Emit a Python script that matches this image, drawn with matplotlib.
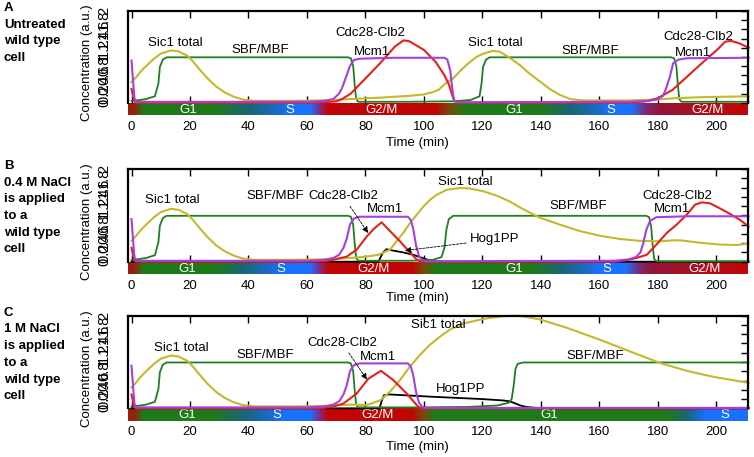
import numpy as np
import matplotlib
matplotlib.use('Agg')
import matplotlib.pyplot as plt

plt.rcParams['font.family'] = ['Liberation Sans', 'DejaVu Sans']

# ---------------------------------------------------------------------------
# data: (time [min], concentration [a.u.])
# ---------------------------------------------------------------------------
sic1_first = [(0, 0.45), (1.5, 0.55), (3, 0.67), (5, 0.8), (7.5, 0.95), (10, 1.07),
              (13.5, 1.14), (16, 1.12), (19, 1.03), (21, 0.9), (23.5, 0.71), (26, 0.53),
              (29, 0.35), (32, 0.22), (35, 0.13), (38, 0.07), (42, 0.04), (55, 0.04),
              (65, 0.05), (75, 0.08)]
sbf_first = [(0, 0.04), (3, 0.06), (5, 0.08), (8, 0.14), (9.2, 0.42), (9.7, 0.78),
             (10.7, 0.94), (12, 0.99), (74, 0.99), (75, 0.97), (75.8, 0.8), (76.3, 0.4),
             (76.8, 0.08), (77.5, 0.02)]
mcm1_start = [(0, 0.92), (0.5, 0.5), (1, 0.1), (1.5, 0.02), (60, 0.02), (66, 0.04)]
clb2_start = [(0, 0.3), (0.5, 0.15), (1, 0.03), (1.5, 0), (60, 0), (66, 0.01)]

# panel A: untreated
a_sic1 = sic1_first + [(85, 0.11), (95, 0.15), (100, 0.18), (103, 0.23), (105, 0.28),
                       (107, 0.4), (110, 0.53), (112.5, 0.7), (115, 0.85), (118, 1.0),
                       (120.3, 1.07), (123.5, 1.13), (126, 1.11), (129.5, 0.97),
                       (132.8, 0.82), (136, 0.64), (139.7, 0.46), (143, 0.3),
                       (146.5, 0.17), (150, 0.08), (154.4, 0.05), (170, 0.05),
                       (180, 0.07), (186, 0.1), (195, 0.12), (211, 0.14)]
a_sbf = sbf_first + [(95, 0.02), (110, 0.03), (116, 0.06), (119, 0.14), (119.7, 0.42),
                     (120.2, 0.78), (121.2, 0.94), (122.5, 0.99), (184.5, 0.99),
                     (185.5, 0.97), (186.3, 0.8), (186.8, 0.4), (187.3, 0.08),
                     (188, 0.02), (211, 0.02)]
a_mcm1 = mcm1_start + [(69, 0.08), (71, 0.2), (72, 0.32), (73.3, 0.55), (74.7, 0.8),
                       (76, 0.93), (78, 0.96), (90, 0.98), (107, 0.98), (108, 0.94),
                       (109, 0.7), (109.7, 0.3), (110.3, 0.05), (111, 0.01),
                       (170, 0.02), (177, 0.04), (180, 0.08), (181.8, 0.15),
                       (183, 0.35), (184.1, 0.57), (185.2, 0.86), (187, 0.94),
                       (190, 0.97), (211, 0.98)]
a_clb2 = clb2_start + [(70, 0.03), (72, 0.08), (75, 0.2), (80, 0.53), (85, 0.86),
                       (90, 1.22), (93, 1.36), (95, 1.34), (100, 1.15), (104, 0.89),
                       (107, 0.6), (108.5, 0.4), (109.5, 0.2), (110.3, 0.05),
                       (111, 0), (170, 0), (176, 0.03), (180, 0.1), (185, 0.28),
                       (190, 0.57), (195, 0.86), (200, 1.14), (203, 1.33),
                       (205, 1.35), (208, 1.29), (211, 1.2)]

# panel B: 0.4 M NaCl
b_sic1 = sic1_first + [(80.4, 0.11), (84.4, 0.15), (88.4, 0.26), (90.6, 0.44),
                       (92.9, 0.62), (95.2, 0.83), (97.5, 1.01), (99.8, 1.19),
                       (102, 1.33), (104.3, 1.44), (107.7, 1.55), (112.2, 1.59),
                       (115.6, 1.58), (120.2, 1.52), (124.7, 1.43), (129.3, 1.3),
                       (132.8, 1.17), (139.6, 0.95), (146.5, 0.8), (153.3, 0.66),
                       (160.2, 0.56), (167, 0.49), (173.8, 0.45), (180.7, 0.44),
                       (185, 0.46), (188, 0.46), (194.3, 0.41), (201.2, 0.37),
                       (206.9, 0.36), (211, 0.39)]
b_sbf = sbf_first + [(95, 0.02), (103, 0.04), (106, 0.1), (107, 0.3), (107.7, 0.7),
                     (108.5, 0.92), (110, 0.99), (176, 0.99), (177, 0.96),
                     (177.7, 0.75), (178.2, 0.35), (178.7, 0.06), (179.5, 0.01),
                     (211, 0.01)]
b_mcm1 = mcm1_start + [(69, 0.08), (71, 0.15), (72.5, 0.3), (73.6, 0.5), (74.7, 0.8),
                       (76, 0.93), (78, 0.97), (94.5, 0.97), (95.5, 0.9), (96.3, 0.72),
                       (97.3, 0.35), (98.3, 0.12), (99.5, 0.03), (100.5, 0.01),
                       (165, 0.02), (170, 0.05), (172.5, 0.1), (174, 0.2), (175, 0.4),
                       (176, 0.68), (177.3, 0.88), (179.5, 0.96), (190, 0.98),
                       (211, 0.98)]
b_clb2 = clb2_start + [(69, 0.04), (73.6, 0.11), (77, 0.26), (80.4, 0.54), (82.7, 0.7),
                       (85.5, 0.85), (88.4, 0.66), (91.8, 0.44), (95.2, 0.2),
                       (97.5, 0.05), (98.5, 0.01), (99.5, 0), (165, 0), (170, 0.04),
                       (172.7, 0.08), (176.2, 0.15), (179.5, 0.37), (183, 0.62),
                       (186.4, 0.8), (189.8, 1.01), (192.7, 1.23), (195, 1.28),
                       (197.8, 1.26), (201.2, 1.15), (204.7, 1.03), (208.1, 0.9),
                       (211, 0.76)]
b_hog = [(0, 0), (84.5, 0), (85.2, 0.1), (86, 0.2), (87.2, 0.27), (89.4, 0.24),
         (92.9, 0.2), (96.3, 0.15), (98.6, 0.1), (100.9, 0.05), (103.2, 0.01),
         (106, 0), (211, 0)]

# panel C: 1 M NaCl
c_sic1 = sic1_first + [(80.4, 0.07), (85, 0.17), (88.4, 0.36), (91.8, 0.61),
                       (95.2, 0.9), (98.6, 1.15), (102, 1.37), (105.5, 1.55),
                       (108.9, 1.7), (113.4, 1.83), (120.3, 1.93), (127, 1.99),
                       (132.8, 2.0), (139.6, 1.92), (148.8, 1.74), (160.2, 1.48),
                       (171.6, 1.2), (180.7, 0.98), (189.8, 0.81), (198.9, 0.68),
                       (211, 0.55)]
c_sbf = sbf_first + [(100, 0.02), (115, 0.03), (125, 0.06), (129, 0.12), (130, 0.2),
                     (130.7, 0.5), (131.3, 0.85), (132, 0.96), (134, 0.99),
                     (211, 0.99)]
c_mcm1 = mcm1_start + [(69, 0.08), (71, 0.15), (72.5, 0.3), (73.6, 0.5), (74.7, 0.8),
                       (76, 0.93), (78, 0.97), (94.5, 0.97), (95.5, 0.9), (96.3, 0.72),
                       (97.3, 0.35), (98.3, 0.12), (99.5, 0.03), (100.5, 0.01),
                       (211, 0.01)]
c_clb2 = clb2_start + [(69, 0.04), (72.4, 0.1), (77, 0.32), (81, 0.64), (85.3, 0.81),
                       (89.5, 0.61), (94.1, 0.32), (97.5, 0.07), (98.5, 0.01),
                       (99.5, 0), (211, 0)]
c_hog = [(0, 0), (84.8, 0), (85.5, 0.15), (86.3, 0.28), (88, 0.3), (102.6, 0.25),
         (119.7, 0.2), (127, 0.17), (129.4, 0.15), (131, 0.11), (133, 0.06),
         (135, 0.03), (138, 0.01), (142, 0), (211, 0)]

# phase bar colour stops (time, rgb)
G1 = (0.12, 0.48, 0.10)
SB = (0.10, 0.45, 1.00)
TEAL = (0.10, 0.40, 0.45)
RED = (0.76, 0.02, 0.02)
MAROON = (0.58, 0.08, 0.22)
DK = (0.60, 0.12, 0.05)
a_phase = [(-1.2, DK), (0.5, DK), (4, G1), (28, G1), (40, TEAL), (50, (0.1, 0.42, 0.8)),
           (55, SB), (61, SB), (64, (0.45, 0.2, 0.6)), (67, RED), (104, RED),
           (109, (0.45, 0.3, 0.05)), (114, G1), (140, G1), (150, TEAL),
           (160, (0.1, 0.42, 0.8)), (164, SB), (171, SB), (176, (0.5, 0.15, 0.45)),
           (181, MAROON), (195, (0.68, 0.06, 0.12)), (211, RED)]
b_phase = [(-1.2, DK), (0.5, DK), (4, G1), (28, G1), (38, TEAL), (47, (0.1, 0.42, 0.8)),
           (53, SB), (61, SB), (64, (0.45, 0.2, 0.6)), (67, RED), (96, RED),
           (100, (0.45, 0.3, 0.05)), (104, G1), (137, G1), (147, TEAL),
           (156, (0.1, 0.42, 0.8)), (160, SB), (169, SB), (174, (0.5, 0.15, 0.45)),
           (178, MAROON), (195, (0.68, 0.06, 0.12)), (211, RED)]
c_phase = [(-1.2, DK), (0.5, DK), (4, G1), (28, G1), (38, TEAL), (47, (0.1, 0.42, 0.8)),
           (53, SB), (61, SB), (64, (0.45, 0.2, 0.6)), (67, RED), (96, RED),
           (100, (0.45, 0.3, 0.05)), (104, G1), (183, G1), (190, TEAL),
           (194, (0.1, 0.42, 0.8)), (197, SB), (211, SB)]

a_phase_lbl = [('G1', 19.3), ('S', 54), ('G2/M', 85.6), ('G1', 131), ('S', 164), ('G2/M', 197)]
b_phase_lbl = [('G1', 19), ('S', 51), ('G2/M', 82.6), ('G1', 131), ('S', 162.5), ('G2/M', 196)]
c_phase_lbl = [('G1', 19), ('S', 49.6), ('G2/M', 84.3), ('G1', 143), ('S', 203)]

# curve labels: (text, t, y)
a_labels = [('Sic1 total', 14.9, 1.30), ('SBF/MBF', 43.9, 1.15), ('Cdc28-Clb2', 81.5, 1.52),
            ('Mcm1', 82.2, 1.11), ('Sic1 total', 124.3, 1.30), ('SBF/MBF', 156.8, 1.13),
            ('Cdc28-Clb2', 193.7, 1.43), ('Mcm1', 192.0, 1.09)]
b_labels = [('Sic1 total', 13.8, 1.33), ('SBF/MBF', 49.0, 1.41), ('Mcm1', 86.7, 1.13),
            ('Sic1 total', 114.0, 1.72), ('SBF/MBF', 152.6, 1.20),
            ('Cdc28-Clb2', 186.5, 1.41), ('Mcm1', 184.8, 1.13)]
c_labels = [('Sic1 total', 17.2, 1.30), ('SBF/MBF', 45.6, 1.15), ('Mcm1', 84.3, 1.11),
            ('Sic1 total', 104.8, 1.80), ('SBF/MBF', 158.5, 1.13)]

# (text, label t, label y, tip t, tip y)
b_arrows = [('Cdc28-Clb2', 72.4, 1.41, 80.9, 0.62), ('Hog1PP', 124.3, 0.48, 93.5, 0.24)]
c_arrows = [('Cdc28-Clb2', 72.0, 1.41, 80.5, 0.62)]
c_plain = [('Hog1PP', 112.6, 0.41)]

side_texts = {
    'A': ['Untreated', 'wild type', 'cell'],
    'B': ['0.4 M NaCl', 'is applied', 'to a', 'wild type', 'cell'],
    'C': ['1 M NaCl', 'is applied', 'to a', 'wild type', 'cell'],
}

# ---------------------------------------------------------------------------
W, H = 754, 457
fig = plt.figure(figsize=(W / 100, H / 100), dpi=100)
fig.patch.set_facecolor('white')

X0, X1 = 128, 748
TMIN, TMAX = -1.2, 210.8
COL = {'sbf': '#1f7f1f', 'sic1': '#c4b82c', 'clb2': '#e8201a', 'mcm1': '#a43fe0', 'hog': 'black'}
FS = 9.5

panels = [
    ('A', 11, 102.7, a_sic1, a_sbf, a_mcm1, a_clb2, None, a_phase, a_phase_lbl, a_labels, [], [], 143),
    ('B', 169, 261.7, b_sic1, b_sbf, b_mcm1, b_clb2, b_hog, b_phase, b_phase_lbl, b_labels, b_arrows, [], 298),
    ('C', 315.7, 408.3, c_sic1, c_sbf, c_mcm1, c_clb2, c_hog, c_phase, c_phase_lbl, c_labels, c_arrows, c_plain, 447),
]

for (name, ytop, ybot, sic1, sbf, mcm1, clb2, hog, phase, phase_lbl,
     labels, arrows, plain, time_y) in panels:
    # phase bar under the axis
    bar_h = 12.5
    axb = fig.add_axes([X0 / W, 1 - (ybot + bar_h) / H, (X1 - X0) / W, bar_h / H])
    tt = np.linspace(TMIN, TMAX, 800)
    pt = [p[0] for p in phase]
    rgb = np.stack([np.interp(tt, pt, [p[1][k] for p in phase]) for k in range(3)], axis=-1)
    axb.imshow(rgb[np.newaxis, :, :], aspect='auto', extent=[TMIN, TMAX, 0, 1])
    axb.set_xlim(TMIN, TMAX)
    axb.set_ylim(0, 1)
    axb.axis('off')
    for lbl, t in phase_lbl:
        axb.text(t, 0.45, lbl, color='white', ha='center', va='center', fontsize=FS)

    ax = fig.add_axes([X0 / W, 1 - ybot / H, (X1 - X0) / W, (ybot - ytop) / H])
    ax.patch.set_alpha(0)
    if hog is not None:
        ax.plot(*zip(*hog), color=COL['hog'], lw=1.3, clip_on=False)
    ax.plot(*zip(*sbf), color=COL['sbf'], lw=1.3, clip_on=False)
    ax.plot(*zip(*sic1), color=COL['sic1'], lw=1.5, clip_on=False)
    ax.plot(*zip(*clb2), color=COL['clb2'], lw=1.5, clip_on=False)
    ax.plot(*zip(*mcm1), color=COL['mcm1'], lw=1.5, clip_on=False)

    ax.set_xlim(TMIN, TMAX)
    ax.set_ylim(0, 2)
    ax.set_xticks(np.arange(0, 201, 20))
    yt = np.round(np.arange(0, 2.01, 0.2), 1)
    ax.set_yticks(yt)
    ax.set_yticklabels(['%g' % v for v in yt], rotation=90, va='center')
    ax.tick_params(axis='x', which='both', direction='in', top=True, bottom=True,
                   length=5, width=1, labelsize=FS, pad=13)
    ax.tick_params(axis='y', which='both', direction='in', left=False, right=True,
                   length=5, width=1, labelsize=10.5, pad=12)
    for s in ['top', 'left', 'right']:
        ax.spines[s].set_linewidth(1.6)
    ax.spines['bottom'].set_visible(False)

    for txt, t, y in labels:
        ax.text(t, y, txt, ha='center', va='center', fontsize=FS)
    for txt, t, y in plain:
        ax.text(t, y, txt, ha='center', va='center', fontsize=FS)
    for txt, t, y, tx, ty in arrows:
        ax.annotate(txt, xy=(tx, ty), xytext=(t, y), ha='center', va='center', fontsize=FS,
                    arrowprops=dict(arrowstyle='-|>', color='black', lw=0.6,
                                    ls=(0, (3, 1.5)), mutation_scale=9,
                                    shrinkA=1, shrinkB=0))

    # axis titles placed in pixel positions
    fig.text(417 / W, 1 - time_y / H, 'Time (min)', ha='center', va='center', fontsize=FS)
    fig.text(87 / W, 1 - (ytop + ybot + bar_h) / 2 / H, 'Concentration (a.u.)',
             rotation=90, ha='center', va='center', fontsize=FS)

    # panel description on the left
    fig.text(4 / W, 1 - (ytop - 3) / H, name, ha='left', va='center',
             fontsize=FS, fontweight='bold')
    for i, line in enumerate(side_texts[name]):
        fig.text(4 / W, 1 - (ytop - 3 + 16.7 * (i + 1)) / H, line, ha='left', va='center',
                 fontsize=FS, fontweight='bold')

fig.savefig('out.png', dpi=100, facecolor='white')
